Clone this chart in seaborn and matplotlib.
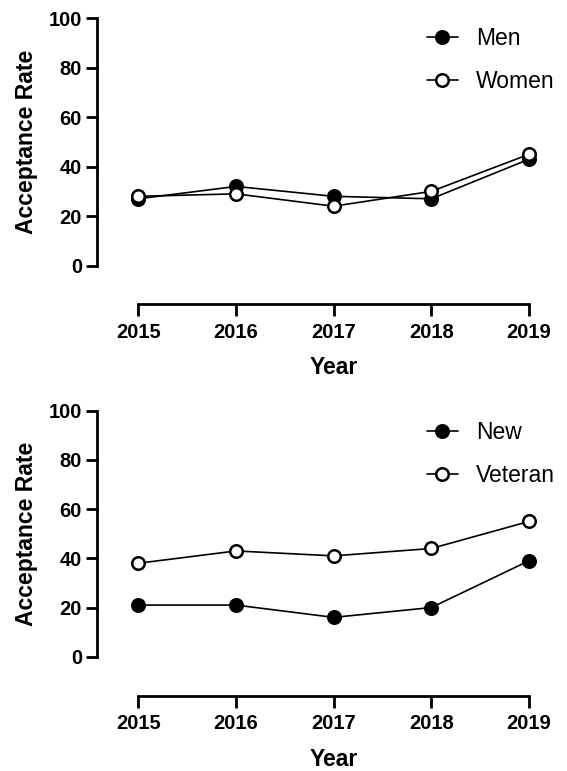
import pandas as pd
import matplotlib.pyplot as plt
import seaborn as sns

#---------------------------------------------------------
years=[2015, 2016, 2017, 2018, 2019]
men=[27, 32, 28, 27, 43]
women=[28, 29, 24, 30, 45]
new=[21, 21, 16, 20, 39]
veteran=[38, 43, 41, 44, 55]
yticks=[0, 20, 40, 60, 80, 100]

#---------------------------------------------------------
sns.set_style('ticks', rc={'text.color': 'black', 'axes.labelcolor': 'black',
	'xtick.color': 'black', 'ytick.color': 'black', 'axes.edgecolor': 'black'})
plt.rcParams['font.family']=['Liberation Sans', 'DejaVu Sans']

def plt_panel(ax, s1, s2, lbl1, lbl2, leg_y, xlab_y):
	df=pd.DataFrame({'year': years*2, 'rate': s1+s2, 'grp': [lbl1]*5+[lbl2]*5})
	for grp, fc in [(lbl1, 'black'), (lbl2, 'white')]:
		sns.lineplot(x='year', y='rate', data=df[df['grp']==grp], ax=ax, color='black', lw=1.2,
			marker='o', markersize=9, markerfacecolor=fc, markeredgecolor='black', markeredgewidth=1.8,
			label=grp, clip_on=False)
	#spines first (set_position resets ticks)
	for s in ['top', 'right']:
		ax.spines[s].set_visible(False)
	ax.spines['left'].set_linewidth(2)
	ax.spines['bottom'].set_linewidth(2)
	ax.spines['bottom'].set_position(('outward', 28))
	ax.set_xlim(2014.58, 2019.266)
	ax.set_ylim(0, 100)
	ax.spines['bottom'].set_bounds(2015, 2019)
	ax.spines['left'].set_bounds(0, 100)
	ax.set_xticks(years)
	ax.set_yticks(yticks)
	ax.set_xticklabels([str(y) for y in years], fontsize=14.5, weight='bold')
	ax.set_yticklabels([str(y) for y in yticks], fontsize=14.5, weight='bold')
	ax.tick_params(axis='y', length=8, width=2, pad=3, color='black')
	ax.tick_params(axis='x', length=8.5, width=2, pad=5, color='black')
	ax.set_xlabel('Year', fontsize=16.5, weight='bold')
	ax.set_ylabel('Acceptance Rate', fontsize=16.5, weight='bold')
	ax.xaxis.set_label_coords(0.516, xlab_y)
	ax.yaxis.set_label_coords(-0.13, 0.5)
	ax.legend(loc='upper left', bbox_to_anchor=(0.72, leg_y), frameon=False, fontsize=16.5,
		handlelength=1.35, handletextpad=0.8, labelspacing=0.85, borderpad=0, borderaxespad=0)

#plot
fig=plt.figure(figsize=(5.67, 7.71), dpi=100)
ax1=fig.add_axes([0.1716, 0.6556, 0.8072, 0.3206])
ax2=fig.add_axes([0.1716, 0.1482, 0.8072, 0.3191])
plt_panel(ax1, men, women, 'Men', 'Women', 0.963, -0.365)
plt_panel(ax2, new, veteran, 'New', 'Veteran', 0.958, -0.372)

#save
plt.savefig('out.png', dpi=100)
plt.close()
